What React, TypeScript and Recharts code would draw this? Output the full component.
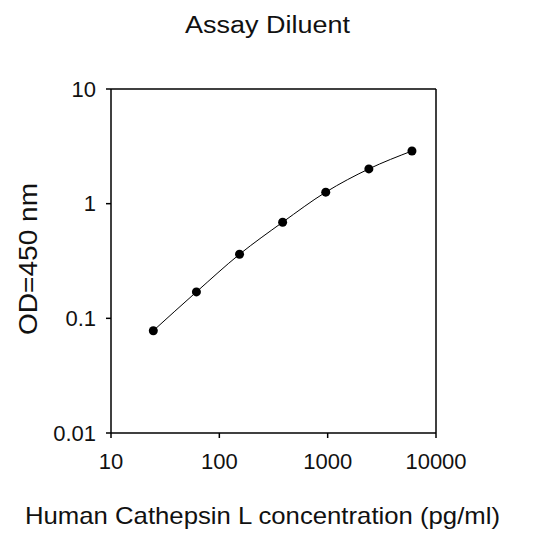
import { ComposedChart, Line, XAxis, YAxis, ReferenceLine } from 'recharts';

const concentrations = [24.576, 61.44, 153.6, 384, 960, 2400, 6000];
const odValues = [0.078, 0.17, 0.362, 0.689, 1.26, 2.01, 2.88];
const xTicks = [10, 100, 1000, 10000];
const yTicks = [0.01, 0.1, 1, 10];

const FONT = '"Liberation Sans", Arial, sans-serif';
const INK = '#111';

const data = concentrations.map((c, i) => ({ c, od: odValues[i] }));

export default function App() {
  return (
    <ComposedChart
      width={518}
      height={523}
      data={data}
      margin={{ top: 81, right: 90, bottom: 0, left: 0 }}
    >
      <text
        x={259.5}
        y={25}
        textAnchor="middle"
        fontFamily={FONT}
        fontSize={23}
        fill={INK}
        textLength={165}
        lengthAdjust="spacingAndGlyphs"
      >
        Assay Diluent
      </text>
      <text
        x={254.5}
        y={516}
        textAnchor="middle"
        fontFamily={FONT}
        fontSize={24}
        fill={INK}
        textLength={475}
        lengthAdjust="spacingAndGlyphs"
      >
        Human Cathepsin L concentration (pg/ml)
      </text>
      <text
        x={28.5}
        y={251}
        textAnchor="middle"
        fontFamily={FONT}
        fontSize={26}
        fill={INK}
        transform="rotate(-90 28.5 251)"
        textLength={152}
        lengthAdjust="spacingAndGlyphs"
      >
        OD=450 nm
      </text>
      <XAxis
        dataKey="c"
        type="number"
        scale="log"
        domain={[10, 10000]}
        ticks={xTicks}
        allowDataOverflow
        height={98}
        tickSize={5}
        tickMargin={15}
        axisLine={{ stroke: '#000', strokeWidth: 1.5 }}
        tickLine={{ stroke: '#000', strokeWidth: 1.5 }}
        tick={{ fontFamily: FONT, fontSize: 22, fill: INK }}
        interval={0}
      />
      <YAxis
        dataKey="od"
        type="number"
        scale="log"
        domain={[0.01, 10]}
        ticks={yTicks}
        allowDataOverflow
        width={103}
        tickSize={5}
        tickMargin={10}
        axisLine={{ stroke: '#000', strokeWidth: 1.5 }}
        tickLine={{ stroke: '#000', strokeWidth: 1.5 }}
        tick={{ fontFamily: FONT, fontSize: 22, fill: INK }}
        interval={0}
      />
      <ReferenceLine y={10} stroke="#000" strokeWidth={1.5} />
      <ReferenceLine x={10000} stroke="#000" strokeWidth={1.5} />
      <Line
        dataKey="od"
        type="monotone"
        stroke="#000"
        strokeWidth={1}
        dot={{ r: 4.5, fill: '#000', stroke: '#000', strokeWidth: 0 }}
        activeDot={false}
        isAnimationActive={false}
      />
    </ComposedChart>
  );
}
